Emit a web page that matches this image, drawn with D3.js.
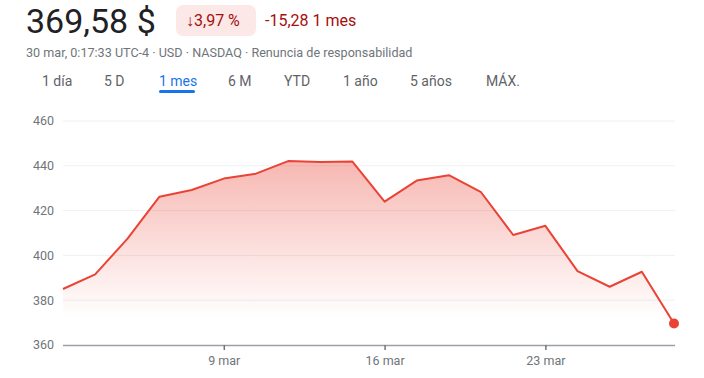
<!DOCTYPE html>
<html>
<head>
<meta charset="utf-8">
<script src="https://cdn.jsdelivr.net/npm/d3@7"></script>
<style>
  body { margin: 0; background: #fff; font-family: Roboto, Arial, sans-serif; }
  svg text { font-family: Roboto, Arial, sans-serif; }
</style>
</head>
<body>
<svg id="chart" width="704" height="378"></svg>
<script>
// trading days (index based x axis, weekends skipped)
const dates = ['2 mar', '3 mar', '4 mar', '5 mar', '6 mar', '9 mar', '10 mar', '11 mar', '12 mar', '13 mar',
  '16 mar', '17 mar', '18 mar', '19 mar', '20 mar', '23 mar', '24 mar', '25 mar', '26 mar', '27 mar'];
const prices = [385.0, 391.5, 407.4, 426.2, 429.2, 434.3, 436.5, 442.1, 441.7, 441.9,
  424.0, 433.4, 435.8, 428.2, 409.1, 413.2, 393.0, 386.0, 392.7, 369.58];
const xTicks = ['9 mar', '16 mar', '23 mar'];
const yTicks = [360, 380, 400, 420, 440, 460];
const tabs = ['1 día', '5 D', '1 mes', '6 M', 'YTD', '1 año', '5 años', 'MÁX.'];
const tabX = [42, 104, 159, 228, 284, 343, 410, 486];

const svg = d3.select('#chart');
const margin = {top: 121, right: 30, bottom: 33, left: 63};
const width = 704 - margin.left - margin.right;
const height = 378 - margin.top - margin.bottom;

// header
svg.append('text').attr('x', 26).attr('y', 33)
  .attr('font-size', 34).attr('fill', '#202124').text('369,58 $');
svg.append('rect').attr('x', 176).attr('y', 5).attr('width', 80).attr('height', 31)
  .attr('rx', 7).attr('fill', '#fce8e6');
svg.append('text').attr('x', 186).attr('y', 26)
  .attr('font-size', 16).attr('fill', '#a50e0e').text('↓3,97 %');
svg.append('text').attr('x', 265).attr('y', 26)
  .attr('font-size', 16).attr('fill', '#a50e0e').text('-15,28 1 mes');
svg.append('text').attr('x', 26).attr('y', 57)
  .attr('font-size', 12.6).attr('fill', '#70757a')
  .text('30 mar, 0:17:33 UTC-4 · USD · NASDAQ · Renuncia de responsabilidad');

// range tabs
svg.selectAll('.tab').data(tabs).join('text')
  .attr('class', 'tab')
  .attr('x', (d, i) => tabX[i]).attr('y', 86)
  .attr('font-size', 14)
  .attr('fill', d => d === '1 mes' ? '#1a73e8' : '#5f6368')
  .text(d => d);
svg.append('rect').attr('x', 159).attr('y', 90).attr('width', 36).attr('height', 3)
  .attr('rx', 1.5).attr('fill', '#1a73e8');

const chart = svg.append('g').attr('transform', `translate(${margin.left},${margin.top})`);

const xScale = d3.scalePoint().domain(dates).range([0, width]);
const yScale = d3.scaleLinear().domain([360, 460]).range([height, 0]);

// gridlines
chart.selectAll('.grid').data(yTicks.filter(d => d > 360)).join('line')
  .attr('class', 'grid')
  .attr('x1', 0).attr('x2', width + 1)
  .attr('y1', d => yScale(d)).attr('y2', d => yScale(d))
  .attr('stroke', '#eef0f1').attr('stroke-width', 1);

// y labels
chart.selectAll('.ylab').data(yTicks).join('text')
  .attr('class', 'ylab')
  .attr('x', -9).attr('y', d => yScale(d)).attr('dy', '0.35em')
  .attr('text-anchor', 'end').attr('font-size', 12.5).attr('fill', '#70757a')
  .text(d => d);

// area gradient
const defs = svg.append('defs');
const grad = defs.append('linearGradient').attr('id', 'fade')
  .attr('gradientUnits', 'userSpaceOnUse')
  .attr('x1', 0).attr('x2', 0)
  .attr('y1', yScale(d3.max(prices))).attr('y2', yScale(372));
grad.append('stop').attr('offset', 0).attr('stop-color', '#ea4335').attr('stop-opacity', 0.38);
grad.append('stop').attr('offset', 1).attr('stop-color', '#ea4335').attr('stop-opacity', 0);

const area = d3.area()
  .x((d, i) => xScale(dates[i]))
  .y0(height)
  .y1(d => yScale(d));
chart.append('path').datum(prices)
  .attr('d', area).attr('fill', 'url(#fade)');

// x axis
const xAxis = d3.axisBottom(xScale).tickValues(xTicks).tickSize(5).tickSizeOuter(0).tickPadding(6);
const xAxisG = chart.append('g').attr('transform', `translate(0,${height})`).call(xAxis);
xAxisG.select('.domain').attr('stroke', '#9aa0a6').attr('stroke-width', 1.5)
  .attr('d', `M0,0.5H${width + 1}`);
xAxisG.selectAll('.tick line').attr('stroke', '#70757a').attr('stroke-width', 1.5);
xAxisG.selectAll('.tick text').attr('font-size', 12.5).attr('fill', '#70757a')
  .attr('font-family', 'Roboto, Arial, sans-serif');

// line
const line = d3.line()
  .x((d, i) => xScale(dates[i]))
  .y(d => yScale(d));
chart.append('path').datum(prices)
  .attr('d', line).attr('fill', 'none')
  .attr('stroke', '#ea4335').attr('stroke-width', 2).attr('stroke-linejoin', 'round');

// last point
chart.append('circle')
  .attr('cx', xScale(dates[dates.length - 1]))
  .attr('cy', yScale(prices[prices.length - 1]))
  .attr('r', 5).attr('fill', '#ea4335');
</script>
</body>
</html>
